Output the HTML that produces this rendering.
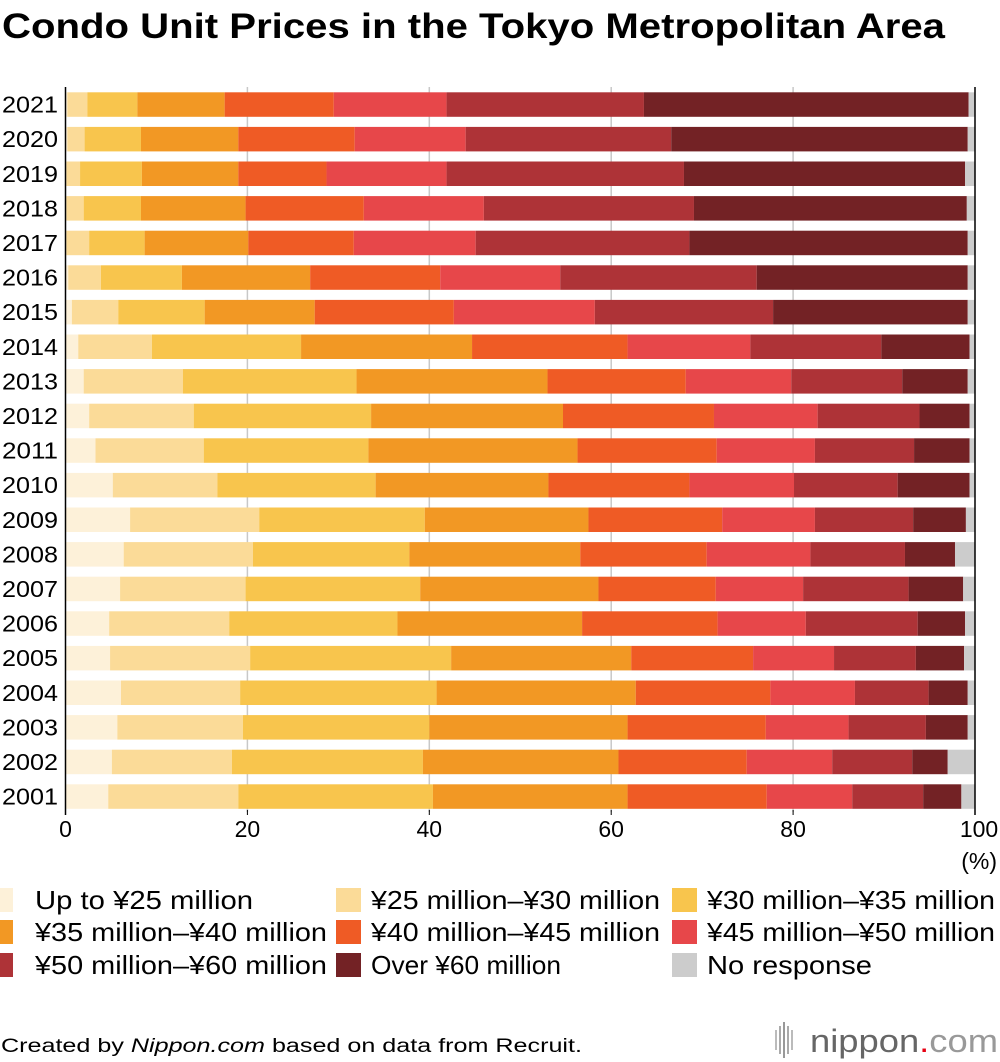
<!DOCTYPE html>
<html><head><meta charset="utf-8"><style>
html,body{margin:0;padding:0;background:#fff;}
svg{display:block;font-family:"Liberation Sans",sans-serif;}
</style></head><body>
<svg id="chart" width="1000" height="1062" viewBox="0 0 1000 1062" xmlns="http://www.w3.org/2000/svg">
<text x="2" y="38" font-size="35" font-weight="bold" fill="#000" textLength="943" lengthAdjust="spacingAndGlyphs">Condo Unit Prices in the Tokyo Metropolitan Area</text>
<g id="grid"></g><g id="bars"></g><g id="axes"></g><g id="legend"></g>
<text x="1" y="1052" font-size="19" fill="#000" textLength="581" lengthAdjust="spacingAndGlyphs">Created by <tspan font-style="italic">Nippon.com</tspan> based on data from Recruit.</text>
<g>
<rect x="775" y="1030" width="2" height="20" fill="#bbb"/><rect x="779" y="1026" width="2" height="28" fill="#aaa"/><rect x="783" y="1022" width="2" height="36" fill="#999"/><rect x="787" y="1026" width="2" height="28" fill="#aaa"/><rect x="791" y="1030" width="2" height="20" fill="#bbb"/>
<text x="810" y="1052" font-size="32" fill="#666" textLength="188" lengthAdjust="spacingAndGlyphs">nippon<tspan fill="#e60012">.</tspan><tspan fill="#999">com</tspan></text>
</g>
</svg>
<script>
const years = ["2021","2020","2019","2018","2017","2016","2015","2014","2013","2012","2011","2010","2009","2008","2007","2006","2005","2004","2003","2002","2001"];
const categories = ["Up to ¥25 million","¥25 million–¥30 million","¥30 million–¥35 million","¥35 million–¥40 million","¥40 million–¥45 million","¥45 million–¥50 million","¥50 million–¥60 million","Over ¥60 million","No response"];
const upTo25   = [0.2,0.2,0.1,0.1,0.1,0.3,0.7,1.4,2.0,2.6,3.3,5.2,7.1,6.4,6.0,4.8,4.9,6.1,5.7,5.1,4.7];
const m25to30  = [2.2,1.9,1.5,1.9,2.5,3.6,5.1,8.1,10.9,11.5,11.9,11.5,14.2,14.2,13.8,13.2,15.4,13.1,13.8,13.2,14.3];
const m30to35  = [5.5,6.2,6.8,6.3,6.1,8.9,9.5,16.4,19.1,19.5,18.1,17.4,18.2,17.2,19.2,18.5,22.1,21.6,20.5,21.0,21.4];
const m35to40  = [9.6,10.7,10.6,11.5,11.4,14.1,12.1,18.8,21.0,21.1,23.0,19.0,18.0,18.8,19.6,20.3,19.8,21.9,21.8,21.5,21.4];
const m40to45  = [12.0,12.8,9.7,13.0,11.6,14.3,15.3,17.1,15.2,16.6,15.3,15.5,14.7,13.9,12.9,14.9,13.4,14.8,15.2,14.1,15.3];
const m45to50  = [12.4,12.2,13.2,13.2,13.4,13.2,15.5,13.5,11.6,11.4,10.8,11.5,10.2,11.4,9.6,9.7,8.9,9.3,9.1,9.4,9.4];
const m50to60  = [21.7,22.6,26.1,23.1,23.5,21.6,19.6,14.4,12.2,11.2,10.9,11.4,10.8,10.4,11.6,12.3,9.0,8.1,8.5,8.8,7.8];
const over60   = [35.7,32.6,30.9,30.0,30.6,23.2,21.4,9.7,7.2,5.5,6.1,7.9,5.8,5.5,6.0,5.2,5.3,4.3,4.6,3.9,4.2];
const noResp   = [0.7,0.8,1.1,0.9,0.8,0.8,0.8,0.6,0.8,0.6,0.6,0.6,1.0,2.2,1.3,1.1,1.2,0.8,0.8,3.0,1.5];
const xTicks = [0,20,40,60,80,100];

const series=[upTo25,m25to30,m30to35,m35to40,m40to45,m45to50,m50to60,over60,noResp];
const colors=["#fdf1d9","#fbdb98","#f8c54d","#f29824","#ef5b25","#e7474a","#ae3337","#732225","#cccccc"];
const slug=["up-to-25m","25m-30m","30m-35m","35m-40m","40m-45m","45m-50m","50m-60m","over-60m","no-response"];
const NS="http://www.w3.org/2000/svg";
const X0=65.5,X1=975,Y0=92.3,PITCH=34.6,BH=24.5;
const xs=v=>X0+(X1-X0)*v/100;
const ys=i=>Y0+i*PITCH;
function mk(t,a,p){const e=document.createElementNS(NS,t);for(const k in a)e.setAttribute(k,a[k]);p.appendChild(e);return e;}
const grid=document.getElementById('grid'),bars=document.getElementById('bars'),axes=document.getElementById('axes'),leg=document.getElementById('legend');
xTicks.forEach(t=>{
  if(t>0&&t<100){const l=mk('line',{x1:xs(t),x2:xs(t),y1:87,y2:812,stroke:'#c8c8c8','stroke-width':1.5},grid);
  
  }
  const tk=mk('line',{x1:xs(t),x2:xs(t),y1:810,y2:815,stroke:'#000','stroke-width':1},axes);
  
  
  const tl=mk('text',{x:xs(t)+(t===100?4:0),y:837,'font-size':23,'text-anchor':'middle',fill:'#000'},axes);
  tl.textContent=t;
  
  
});
const pu=mk('text',{x:997,y:869,'font-size':23,'text-anchor':'end',fill:'#000'},axes);
pu.textContent='(%)';


years.forEach((y,i)=>{
  let acc=0;
  series.forEach((s,k)=>{
    const v=s[i];
    const r=mk('rect',{x:xs(acc),y:ys(i),width:Math.max(0,xs(acc+v)-xs(acc)),height:BH,fill:colors[k]},bars);
    
    
    acc+=v;
  });
  const t=mk('text',{x:2,y:ys(i)+BH/2+8,'font-size':23,fill:'#000',textLength:56,lengthAdjust:'spacingAndGlyphs'},axes);
  t.textContent=y;
  
  
});
const la=mk('line',{x1:X0,x2:X0,y1:87,y2:815,stroke:'#000','stroke-width':1.5},axes);


const ra=mk('line',{x1:X1,x2:X1,y1:87,y2:815,stroke:'#000','stroke-width':1.5},axes);


const colX=[-12,336,672],txtX=[35,371,707],rowY=[888,920,953];
const txtLen=[218,289,288,292,289,288,292,190,165];
categories.forEach((c,k)=>{
  const col=k%3,row=Math.floor(k/3);
  const g=mk('g',{},leg);
  
  
  mk('rect',{x:colX[col],y:rowY[row],width:25,height:24,fill:colors[k]},g);
  const t=mk('text',{x:txtX[col],y:rowY[row]+21,'font-size':26,fill:'#000',textLength:txtLen[k],lengthAdjust:'spacingAndGlyphs'},g);
  t.textContent=c;
});
</script>
</body></html>
